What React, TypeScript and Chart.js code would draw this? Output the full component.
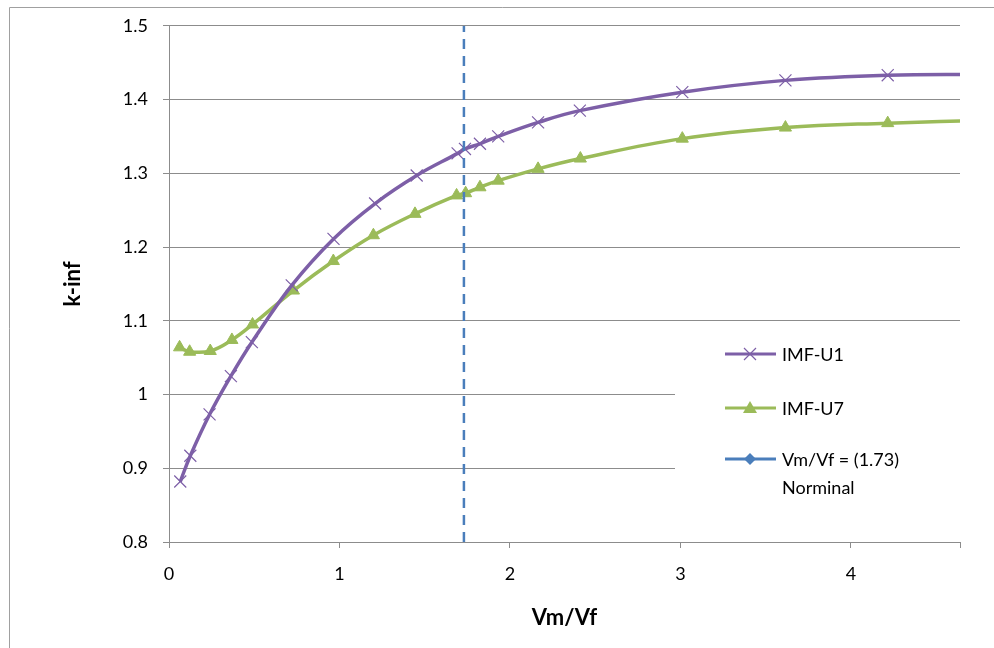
import React, { useEffect, useRef } from "react";
import { Chart, registerables } from "chart.js";

Chart.register(...registerables);

// ---- data ----
const xU1 = [0.066, 0.125, 0.238, 0.363, 0.486, 0.72, 0.965, 1.209, 1.453, 1.693, 1.736, 1.824, 1.931, 2.165, 2.41, 3.011, 3.616, 4.216, 4.83];
const kU1 = [0.882, 0.917, 0.973, 1.025, 1.071, 1.148, 1.211, 1.259, 1.297, 1.327, 1.333, 1.34, 1.35, 1.369, 1.385, 1.41, 1.426, 1.433, 1.434];
const xU7 = [0.062, 0.121, 0.242, 0.369, 0.49, 0.73, 0.964, 1.199, 1.443, 1.687, 1.74, 1.824, 1.931, 2.165, 2.413, 3.011, 3.616, 4.216, 4.83];
const kU7 = [1.064, 1.058, 1.059, 1.074, 1.095, 1.141, 1.181, 1.216, 1.245, 1.27, 1.273, 1.281, 1.29, 1.306, 1.32, 1.347, 1.362, 1.368, 1.372];
const nominalX = [1.73, 1.73];
const nominalY = [0.8, 1.5];
const seriesNames = ["IMF-U1", "IMF-U7", "Vm/Vf = (1.73)", "Norminal"];
const xTitle = "Vm/Vf";
const yTitle = "k-inf";

const PURPLE = "#7D5FA7";
const GREEN = "#9BBB59";
const BLUE = "#4A7EBB";
const GRID = "#8C8C8C";
const FONT = "Lato, 'Noto Sans', sans-serif";

const toPts = (xs: number[], ys: number[]) => xs.map((x, i) => ({ x, y: ys[i] }));

const decorPlugin = {
  id: "decor",
  beforeDraw(chart: any) {
    const ctx = chart.ctx;
    ctx.save();
    ctx.strokeStyle = "#A0A0A0";
    ctx.lineWidth = 1;
    ctx.beginPath();
    ctx.moveTo(9.5, 700);
    ctx.lineTo(9.5, 7.5);
    ctx.lineTo(1000, 7.5);
    ctx.stroke();
    ctx.restore();
  },
  afterDatasetsDraw(chart: any) {
    const ctx = chart.ctx;
    ctx.save();
    ctx.fillStyle = "#FFFFFF";
    ctx.fillRect(675, 326, 288, 210);
    const items = [
      { y: 354, color: PURPLE, marker: "x", label: seriesNames[0] },
      { y: 408, color: GREEN, marker: "tri", label: seriesNames[1] },
      { y: 459, color: BLUE, marker: "dia", label: seriesNames[2] },
    ];
    ctx.font = `18px ${FONT}`;
    ctx.textBaseline = "middle";
    ctx.textAlign = "left";
    for (const it of items) {
      ctx.strokeStyle = it.color;
      ctx.lineWidth = 3;
      ctx.beginPath();
      ctx.moveTo(725, it.y);
      ctx.lineTo(776, it.y);
      ctx.stroke();
      const cx = 750;
      if (it.marker === "x") {
        ctx.lineWidth = 1.2;
        ctx.beginPath();
        ctx.moveTo(cx - 6, it.y - 6);
        ctx.lineTo(cx + 6, it.y + 6);
        ctx.moveTo(cx + 6, it.y - 6);
        ctx.lineTo(cx - 6, it.y + 6);
        ctx.stroke();
      } else if (it.marker === "tri") {
        ctx.fillStyle = it.color;
        ctx.beginPath();
        ctx.moveTo(cx, it.y - 7);
        ctx.lineTo(cx + 7, it.y + 5);
        ctx.lineTo(cx - 7, it.y + 5);
        ctx.closePath();
        ctx.fill();
      } else {
        ctx.fillStyle = it.color;
        ctx.beginPath();
        ctx.moveTo(cx, it.y - 6);
        ctx.lineTo(cx + 6, it.y);
        ctx.lineTo(cx, it.y + 6);
        ctx.lineTo(cx - 6, it.y);
        ctx.closePath();
        ctx.fill();
      }
      ctx.fillStyle = "#000000";
      ctx.fillText(it.label, 782, it.y + 1);
    }
    ctx.fillText(seriesNames[3], 782, 488);
    ctx.restore();
  },
};

export default function App() {
  const ref = useRef<HTMLCanvasElement | null>(null);
  useEffect(() => {
    document.body.style.margin = "0";
    const canvas = ref.current;
    if (!canvas) return;
    const chart = new Chart(canvas, {
      type: "line",
      data: {
        datasets: [
          {
            label: seriesNames[2],
            data: toPts(nominalX, nominalY),
            borderColor: BLUE,
            borderWidth: 2.5,
            borderDash: [10, 7],
            pointRadius: 0,
            tension: 0,
          },
          {
            label: seriesNames[0],
            data: toPts(xU1, kU1),
            borderColor: PURPLE,
            backgroundColor: PURPLE,
            borderWidth: 3.5,
            pointStyle: "crossRot",
            pointRadius: 8.5,
            pointBorderWidth: 1.2,
            pointBorderColor: PURPLE,
            tension: 0.4,
          },
          {
            label: seriesNames[1],
            data: toPts(xU7, kU7),
            borderColor: GREEN,
            backgroundColor: GREEN,
            borderWidth: 3.5,
            pointStyle: "triangle",
            pointRadius: 7,
            pointBorderWidth: 1,
            pointBorderColor: GREEN,
            pointBackgroundColor: GREEN,
            tension: 0.4,
          },
        ],
      },
      options: {
        responsive: false,
        animation: false,
        layout: { padding: { left: 0, top: 25, right: 34, bottom: 0 } },
        plugins: { legend: { display: false }, tooltip: { enabled: false } },
        scales: {
          x: {
            type: "linear",
            min: 0,
            max: 4.64,
            afterFit: (s: any) => {
              s.height = 106;
            },
            ticks: {
              stepSize: 1,
              color: "#000",
              font: { family: FONT, size: 18 },
              padding: 15,
              maxRotation: 0,
              callback: (v: any) => (Number.isInteger(v) ? String(v) : ""),
            },
            grid: { drawOnChartArea: false, drawTicks: true, tickLength: 6, color: GRID },
            border: { display: true, color: GRID },
            title: {
              display: true,
              text: xTitle,
              color: "#000",
              font: { family: FONT, size: 22, weight: "bold" },
              padding: { top: 17, bottom: 17 },
            },
          },
          y: {
            type: "linear",
            min: 0.8,
            max: 1.5,
            afterFit: (s: any) => {
              s.width = 169;
            },
            ticks: {
              stepSize: 0.1,
              color: "#000",
              font: { family: FONT, size: 18 },
              padding: 15,
              callback: (v: any) => String(Math.round(Number(v) * 10) / 10),
            },
            grid: { color: GRID, tickLength: 6, lineWidth: 1 },
            border: { display: true, color: GRID },
            title: {
              display: true,
              text: yTitle,
              color: "#000",
              font: { family: FONT, size: 22, weight: "bold" },
              padding: { top: 60, bottom: 60 },
            },
          },
        },
      },
      plugins: [decorPlugin],
    });
    return () => chart.destroy();
  }, []);
  return (
    <div style={{ width: 994, height: 648, background: "#fff" }}>
      <canvas ref={ref} width={994} height={648} />
    </div>
  );
}
